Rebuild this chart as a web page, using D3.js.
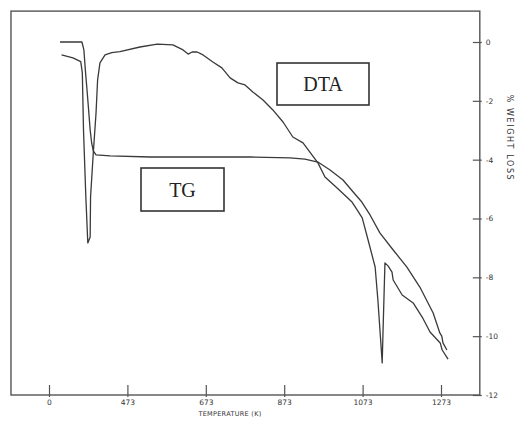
<!DOCTYPE html>
<html>
<head>
<meta charset="utf-8">
<script src="https://cdn.jsdelivr.net/npm/d3@7"></script>
<style>
  body { margin: 0; background: #fff; }
  svg { display: block; }
</style>
</head>
<body>
<svg></svg>
<script>
// temperatures in K (the "0" tick sits at 273 K on the original plot)
var xTickValues = [273, 473, 673, 873, 1073, 1273];
var xTickLabels = ["0", "473", "673", "873", "1073", "1273"];
var yTickValues = [0, -2, -4, -6, -8, -10, -12];
var yTickLabels = ["0", "-2", "-4", "-6", "-8", "-10", "-12"];

// TG curve, % weight loss
var tgTemp = [301, 357, 362, 366, 370, 374, 378, 382, 386, 393, 429, 531, 658, 786, 888, 926, 959,
  990, 1023, 1049, 1071, 1092, 1117, 1151, 1186, 1219, 1253, 1270, 1275, 1278, 1288];
var tgLoss = [0, 0, -0.27, -1.0, -1.63, -2.3, -2.99, -3.45, -3.7, -3.84, -3.87, -3.91, -3.91, -3.91, -3.94, -3.98, -4.08,
  -4.35, -4.69, -5.1, -5.44, -5.88, -6.49, -7.07, -7.65, -8.33, -9.21, -9.89, -10.0, -10.23, -10.47];

// DTA trace, drawn on the same vertical scale
var dtaTemp = [305, 334, 354, 358, 361, 367, 372, 378, 379, 386, 393, 397, 403, 416, 433, 454, 505, 549,
  589, 615, 628, 638, 651, 666, 691, 714, 735, 755, 773, 793, 819, 844, 870, 895, 921, 959,
  977, 1008, 1046, 1059, 1072, 1087, 1105, 1112, 1123, 1125, 1130, 1138, 1148, 1151, 1174,
  1202, 1225, 1245, 1271, 1276, 1291];
var dtaSignal = [-0.44, -0.54, -0.67, -1.05, -2.99, -5.27, -6.83, -6.63, -5.27, -3.77, -2.41, -1.29, -0.71, -0.44, -0.36, -0.33, -0.17, -0.07,
  -0.1, -0.27, -0.41, -0.34, -0.34, -0.44, -0.68, -0.88, -1.22, -1.39, -1.46, -1.7, -1.97, -2.31, -2.72, -3.23, -3.43, -4.11,
  -4.59, -4.96, -5.44, -5.71, -5.98, -6.73, -7.65, -8.77, -10.91, -9.89, -7.51, -7.61, -7.82, -8.09, -8.6,
  -8.87, -9.35, -9.86, -10.23, -10.47, -10.78];

var width = 515;
var height = 423;

var svg = d3.select("svg").attr("width", width).attr("height", height);

var xScale = d3.scaleLinear().domain([273, 1273]).range([49, 441]);
var yScale = d3.scaleLinear().domain([-12, 0]).range([395, 42]);

var ink = "#3a3a3a";

// frame
svg.append("rect")
  .attr("x", xScale(176))
  .attr("y", yScale(1.05))
  .attr("width", xScale(1372) - xScale(176))
  .attr("height", yScale(-12) - yScale(1.05))
  .attr("fill", "none")
  .attr("stroke", "#555")
  .attr("stroke-width", 1.4);

var xAxis = d3.axisBottom(xScale)
  .tickValues(xTickValues)
  .tickFormat((d, i) => xTickLabels[i])
  .tickSizeInner(-10)
  .tickSizeOuter(0)
  .tickPadding(5);

var gx = svg.append("g")
  .attr("transform", "translate(0," + yScale(-12) + ")")
  .call(xAxis);
gx.select(".domain").remove();
gx.selectAll(".tick line").attr("y1", 2).attr("stroke", "#555").attr("stroke-width", 1.2);
gx.selectAll(".tick text")
  .attr("font-family", "DejaVu Sans, sans-serif")
  .attr("font-size", 7.5)
  .attr("fill", "#333");

var yAxis = d3.axisRight(yScale)
  .tickValues(yTickValues)
  .tickFormat((d, i) => yTickLabels[i])
  .tickSizeInner(-7)
  .tickSizeOuter(0)
  .tickPadding(6);

var gy = svg.append("g")
  .attr("transform", "translate(" + xScale(1372) + ",0)")
  .call(yAxis);
gy.select(".domain").remove();
gy.selectAll(".tick line").attr("x1", 2).attr("stroke", "#555").attr("stroke-width", 1.2);
gy.selectAll(".tick text")
  .attr("font-family", "DejaVu Sans, sans-serif")
  .attr("font-size", 7.5)
  .attr("fill", "#333");

// axis titles
svg.append("text")
  .attr("x", 230)
  .attr("y", 416)
  .attr("text-anchor", "middle")
  .attr("font-family", "DejaVu Sans, sans-serif")
  .attr("font-size", 6.5)
  .attr("letter-spacing", 0.3)
  .attr("fill", "#333")
  .text("TEMPERATURE (K)");

svg.append("text")
  .attr("transform", "translate(507,138) rotate(90)")
  .attr("text-anchor", "middle")
  .attr("font-family", "DejaVu Sans, sans-serif")
  .attr("font-size", 8)
  .attr("letter-spacing", 1.6)
  .attr("fill", "#333")
  .text("% WEIGHT LOSS");

// curves
var line = d3.line()
  .x((d) => xScale(d[0]))
  .y((d) => yScale(d[1]));

svg.append("path")
  .datum(d3.zip(tgTemp, tgLoss))
  .attr("d", line)
  .attr("fill", "none")
  .attr("stroke", ink)
  .attr("stroke-width", 1.3)
  .attr("stroke-linejoin", "round");

svg.append("path")
  .datum(d3.zip(dtaTemp, dtaSignal))
  .attr("d", line)
  .attr("fill", "none")
  .attr("stroke", ink)
  .attr("stroke-width", 1.3)
  .attr("stroke-linejoin", "round");

// labelled boxes
var boxes = [
  { text: "DTA", x0: 277, y0: 63, x1: 369, y1: 105 },
  { text: "TG", x0: 141, y0: 168, x1: 224, y1: 211 }
];

boxes.forEach((b) => {
  svg.append("rect")
    .attr("x", b.x0)
    .attr("y", b.y0)
    .attr("width", b.x1 - b.x0)
    .attr("height", b.y1 - b.y0)
    .attr("fill", "#fff")
    .attr("stroke", "#333")
    .attr("stroke-width", 1.6);
  svg.append("text")
    .attr("x", (b.x0 + b.x1) / 2)
    .attr("y", (b.y0 + b.y1) / 2 + 7)
    .attr("text-anchor", "middle")
    .attr("font-family", "Liberation Serif, serif")
    .attr("font-size", 20)
    .attr("fill", "#222")
    .text(b.text);
});
</script>
</body>
</html>
